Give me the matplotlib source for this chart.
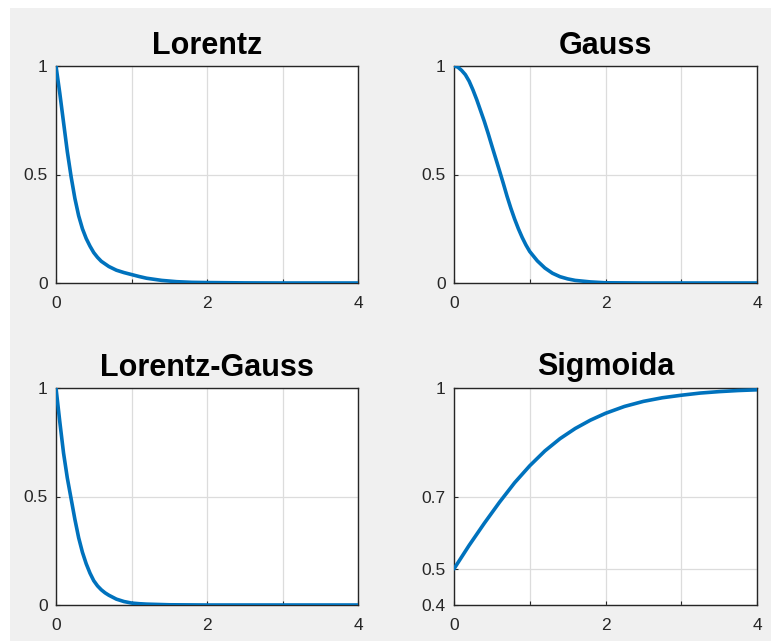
import matplotlib
matplotlib.use("Agg")
import matplotlib.pyplot as plt
from matplotlib.patches import Rectangle

plt.rcParams["font.family"] = ["Liberation Sans", "DejaVu Sans"]

# Lorentz
x_lor = [0, 0.05, 0.1, 0.15, 0.2, 0.25, 0.3, 0.35, 0.4, 0.45, 0.5, 0.55, 0.6, 0.7, 0.8, 0.9,
         1.0, 1.1, 1.2, 1.4, 1.6, 1.8, 2.0, 2.5, 3.0, 4.0]
y_lor = [1.0, 0.875, 0.74, 0.605, 0.49, 0.39, 0.31, 0.25, 0.205, 0.17, 0.14, 0.118, 0.10, 0.076, 0.059, 0.048,
         0.039, 0.03, 0.022, 0.012, 0.006, 0.003, 0.002, 0.0005, 0.0, 0.0]

# Gauss
x_gau = [0, 0.05, 0.1, 0.15, 0.2, 0.25, 0.3, 0.35, 0.4, 0.45, 0.5, 0.55, 0.6, 0.65, 0.7, 0.75, 0.8, 0.85,
         0.9, 0.95, 1.0, 1.1, 1.2, 1.3, 1.4, 1.5, 1.6, 1.8, 2.0, 2.5, 3.0, 4.0]
y_gau = [1.0, 0.995, 0.98, 0.96, 0.93, 0.89, 0.845, 0.795, 0.745, 0.69, 0.632, 0.575, 0.518, 0.46, 0.40, 0.345, 0.295, 0.25,
         0.21, 0.175, 0.145, 0.102, 0.069, 0.045, 0.029, 0.019, 0.012, 0.005, 0.001, 0.0, 0.0, 0.0]

# Lorentz-Gauss
x_lg = [0, 0.05, 0.1, 0.15, 0.2, 0.25, 0.3, 0.35, 0.4, 0.45, 0.5, 0.55, 0.6, 0.65, 0.7, 0.8, 0.9,
        1.0, 1.1, 1.2, 1.5, 2.0, 3.0, 4.0]
y_lg = [1.0, 0.845, 0.70, 0.585, 0.49, 0.395, 0.31, 0.243, 0.19, 0.147, 0.112, 0.088, 0.07, 0.056, 0.045, 0.027, 0.016,
        0.009, 0.006, 0.004, 0.001, 0.0, 0.0, 0.0]

# Sigmoida
x_sig = [0, 0.2, 0.4, 0.6, 0.8, 1.0, 1.2, 1.4, 1.6, 1.8, 2.0, 2.25, 2.5, 2.75, 3.0, 3.25, 3.5, 3.75, 4.0]
y_sig = [0.5, 0.565, 0.626, 0.684, 0.738, 0.785, 0.826, 0.86, 0.888, 0.911, 0.93, 0.949, 0.963, 0.973, 0.98, 0.986,
         0.99, 0.993, 0.995]

titles = ["Lorentz", "Gauss", "Lorentz-Gauss", "Sigmoida"]
xticks = [0, 1, 2, 3, 4]
xticklabels = ["0", "", "2", "", "4"]

fig = plt.figure(figsize=(7.81, 6.41), dpi=100, facecolor="white")
fig.patches.append(Rectangle((10 / 781, 0), 761 / 781, 1 - 8 / 641,
                             transform=fig.transFigure, facecolor="#f0f0f0",
                             edgecolor="none", zorder=-1))

W = 302 / 781
H = 217 / 641
positions = [
    [56 / 781, 1 - 283 / 641, W, H],
    [454 / 781, 1 - 283 / 641, W + 1 / 781, H],
    [56 / 781, 1 - 605 / 641, W, H],
    [454 / 781, 1 - 605 / 641, W + 1 / 781, H],
]
data = [(x_lor, y_lor), (x_gau, y_gau), (x_lg, y_lg), (x_sig, y_sig)]

for i, (pos, (x, y), title) in enumerate(zip(positions, data, titles)):
    ax = fig.add_axes(pos)
    ax.plot(x, y, color="#0072BD", linewidth=2.6, solid_capstyle="round",
            solid_joinstyle="round", zorder=3)
    ax.set_xlim(0, 4)
    ax.set_xticks(xticks)
    ax.set_xticklabels(xticklabels)
    if i == 3:
        ax.set_ylim(0.4, 1)
        ax.set_yticks([0.4, 0.5, 0.7, 1])
        ax.set_yticklabels(["0.4", "0.5", "0.7", "1"])
    else:
        ax.set_ylim(0, 1)
        ax.set_yticks([0, 0.5, 1])
        ax.set_yticklabels(["0", "0.5", "1"])
    ax.grid(True, color="#dcdcdc", linewidth=0.9)
    ax.set_axisbelow(True)
    ax.set_title(title, fontsize=22, fontweight="bold", pad=9)
    ax.tick_params(axis="both", direction="in", length=3, width=0.8,
                   colors="#262626", labelsize=12.5)
    ax.tick_params(axis="x", pad=9)
    ax.tick_params(axis="y", pad=6)
    for s in ax.spines.values():
        s.set_color("#262626")
        s.set_linewidth(1.0)

fig.savefig("out.png", dpi=100, facecolor=fig.get_facecolor())
